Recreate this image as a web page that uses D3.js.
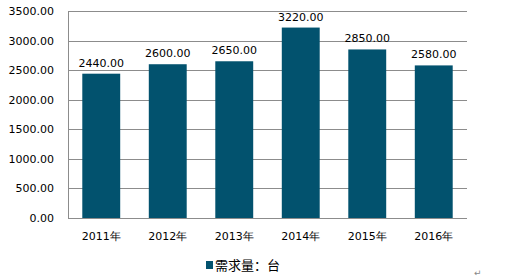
<!DOCTYPE html>
<html>
<head>
<meta charset="utf-8">
<script src="https://cdn.jsdelivr.net/npm/d3@7"></script>
<style>
  body { margin: 0; background: #fff; }
</style>
</head>
<body>
<div id="chart"></div>
<script>
var years = ["2011年", "2012年", "2013年", "2014年", "2015年", "2016年"];
var demand = [2440, 2600, 2650, 3220, 2850, 2580];
var yTicks = [0, 500, 1000, 1500, 2000, 2500, 3000, 3500];
var seriesName = "需求量：台";

var w = 509;
var h = 278;
var plotLeft = 68, plotRight = 467, plotTop = 11, plotBottom = 218;
var barColor = "#02526e";
var font = "'DejaVu Sans', Verdana, sans-serif";

var svg = d3.select("#chart").append("svg").attr("width", w).attr("height", h);

var x = d3.scaleBand().domain(years).range([plotLeft, plotRight]).paddingInner(0.43).paddingOuter(0.215);
var y = d3.scaleLinear().domain([0, 3500]).range([plotBottom, plotTop]);

// gridlines
svg.selectAll("line.grid")
  .data(yTicks)
  .enter()
  .append("line")
  .attr("class", "grid")
  .attr("x1", plotLeft)
  .attr("x2", plotRight)
  .attr("y1", function (d) { return Math.round(y(d)) + 0.5; })
  .attr("y2", function (d) { return Math.round(y(d)) + 0.5; })
  .attr("stroke", "#8c8c8c")
  .attr("stroke-width", 1);

// left axis line
svg.append("line")
  .attr("x1", plotLeft + 0.5).attr("x2", plotLeft + 0.5)
  .attr("y1", plotTop).attr("y2", plotBottom + 1)
  .attr("stroke", "#8c8c8c");

// y tick labels
svg.selectAll("text.ytick")
  .data(yTicks)
  .enter()
  .append("text")
  .attr("class", "ytick")
  .text(function (d) { return d.toFixed(2); })
  .attr("x", 54)
  .attr("y", function (d) { return y(d) + 4; })
  .attr("text-anchor", "end")
  .attr("font-family", font)
  .attr("font-size", "11px")
  .attr("fill", "#000");

// bars
svg.selectAll("rect.bar")
  .data(demand)
  .enter()
  .append("rect")
  .attr("class", "bar")
  .attr("x", function (d, i) { return x(years[i]); })
  .attr("y", function (d) { return y(d); })
  .attr("width", x.bandwidth())
  .attr("height", function (d) { return plotBottom - y(d); })
  .attr("fill", barColor);

// value labels
svg.selectAll("text.val")
  .data(demand)
  .enter()
  .append("text")
  .attr("class", "val")
  .text(function (d) { return d.toFixed(2); })
  .attr("x", function (d, i) { return x(years[i]) + x.bandwidth() / 2; })
  .attr("y", function (d) { return y(d) - 7; })
  .attr("text-anchor", "middle")
  .attr("font-family", font)
  .attr("font-size", "11px")
  .attr("fill", "#000");

// x labels
svg.selectAll("text.xlab")
  .data(years)
  .enter()
  .append("text")
  .attr("class", "xlab")
  .text(function (d) { return d; })
  .attr("x", function (d) { return x(d) + x.bandwidth() / 2; })
  .attr("y", 240)
  .attr("text-anchor", "middle")
  .attr("font-family", font)
  .attr("font-size", "11px")
  .attr("fill", "#000");

// legend
svg.append("rect")
  .attr("x", 206).attr("y", 261)
  .attr("width", 7).attr("height", 8)
  .attr("fill", barColor);
svg.append("text")
  .text(seriesName)
  .attr("x", 215)
  .attr("y", 270)
  .attr("font-family", "'Noto Sans CJK SC', sans-serif")
  .attr("font-size", "13px")
  .attr("fill", "#000");

// paragraph mark
svg.append("text")
  .text("↵")
  .attr("x", 474)
  .attr("y", 276)
  .attr("font-family", font)
  .attr("font-size", "9px")
  .attr("fill", "#888");
</script>
</body>
</html>
